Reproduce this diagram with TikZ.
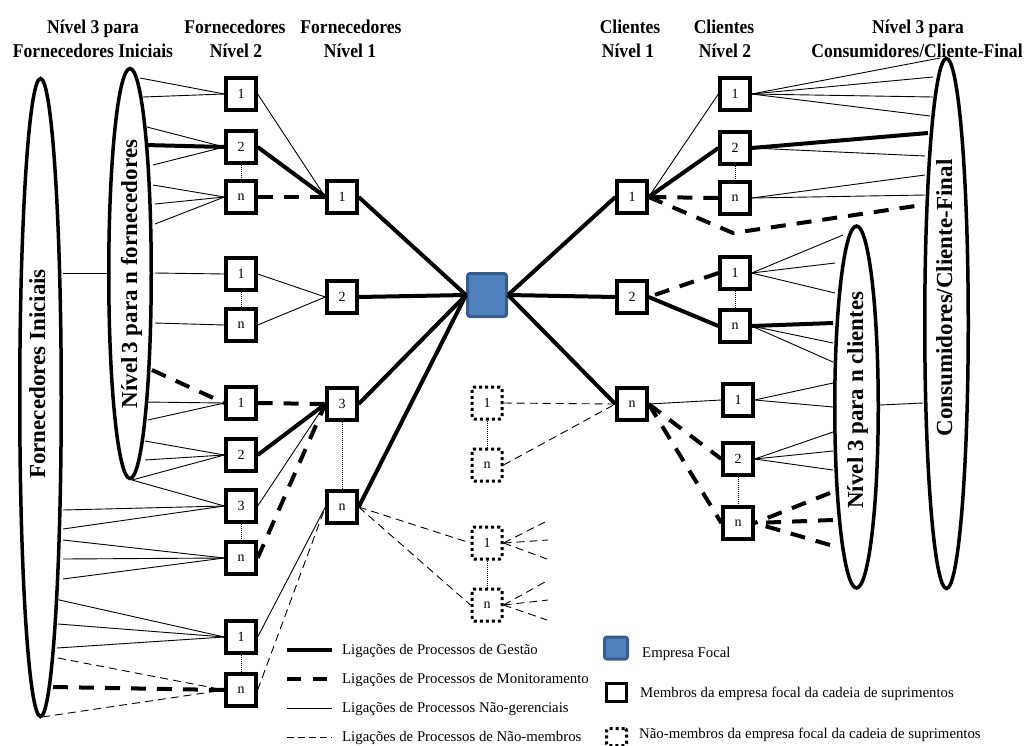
\documentclass[tikz,border=0pt]{standalone}
\usepackage{fontspec}
\setmainfont{Liberation Serif}
\newfontfamily\hdrfont[FakeStretch=0.9]{Liberation Serif}
\usetikzlibrary{shapes.geometric}
\definecolor{focalfill}{RGB}{79,129,189}
\definecolor{focaledge}{RGB}{56,93,138}
\begin{document}
\begin{tikzpicture}[x=1pt,y=-1pt,
  hdr/.style={font=\hdrfont\bfseries\fontsize{19.5}{23}\selectfont, anchor=base, inner sep=0},
  member/.style={draw, line width=3.3pt, fill=white, minimum width=30pt, minimum height=32pt,
    inner sep=0, font=\fontsize{14}{16}\selectfont},
  nonmember/.style={draw, line width=3pt, dash pattern=on 3pt off 3pt, fill=white,
    minimum width=30pt, minimum height=32pt, inner sep=0, rounded corners=2pt,
    font=\fontsize{14}{16}\selectfont},
  focal/.style={draw=focaledge, fill=focalfill, line width=3pt, rounded corners=2.5pt,
    minimum width=39pt, minimum height=43pt, inner sep=0},
  level3/.style={draw, ellipse, line width=3.5pt, inner sep=0},
  ellabel/.style={rotate=90, anchor=base, inner sep=0, font=\bfseries\fontsize{23}{26}\selectfont},
  mgmt/.style={line width=4pt},
  monit/.style={line width=4pt, dash pattern=on 15pt off 11pt},
  nonmgmt/.style={line width=0.9pt},
  nonmemb/.style={line width=0.9pt, dash pattern=on 8pt off 5pt},
  gap/.style={line width=0.6pt, dash pattern=on 1pt off 1pt},
  legtext/.style={anchor=base west, inner sep=0, font=\fontsize{14.8}{16}\selectfont}
]
\useasboundingbox (0,0) rectangle (1028,745);

% ---------- column headers ----------
\node[hdr] (h1a) at (93,33)  {Nível 3 para};
\node[hdr] (h1b) at (93,57)  {Fornecedores Iniciais};
\node[hdr] (h2a) at (235,33) {Fornecedores};
\node[hdr] (h2b) at (236,57) {Nível 2};
\node[hdr] (h3a) at (351,33) {Fornecedores};
\node[hdr] (h3b) at (350,57) {Nível 1};
\node[hdr] (h4a) at (630,33) {Clientes};
\node[hdr] (h4b) at (628,57) {Nível 1};
\node[hdr] (h5a) at (724,33) {Clientes};
\node[hdr] (h5b) at (725,57) {Nível 2};
\node[hdr] (h6a) at (918,33) {Nível 3 para};
\node[hdr] (h6b) at (917,57) {Consumidores/Cliente-Final};

% ---------- tier-3 groups ----------
\node[level3, minimum width=41.5pt, minimum height=638pt] (FI)  at (40.5,397.5) {};
\node[level3, minimum width=42.5pt, minimum height=410pt] (N3F) at (130,273.5) {};
\node[level3, minimum width=43.5pt, minimum height=362pt] (N3C) at (856.5,407) {};
\node[level3, minimum width=43.5pt, minimum height=530pt] (CF)  at (946.5,323.5) {};
\node[ellabel] (FIt)  at (45,374)  {Fornecedores Iniciais};
\node[ellabel] (N3Ft) at (137,274) {Nível\,3 para n fornecedores};
\node[ellabel] (N3Ct) at (863,400) {Nível 3 para n clientes};
\node[ellabel] (CFt)  at (952,298) {Consumidores/Cliente-Final};

% ---------- supplier tier 2 ----------
\node[member] (S2a) at (241,94)  {1};
\node[member] (S2b) at (241,147) {2};
\node[member] (S2c) at (241,197) {n};
\node[member] (S2d) at (241,274) {1};
\node[member] (S2e) at (241,325) {n};
\node[member] (S2f) at (241,403) {1};
\node[member] (S2g) at (241,455) {2};
\node[member] (S2h) at (241,506) {3};
\node[member] (S2i) at (241,558) {n};
\node[member] (S2j) at (241,637) {1};
\node[member] (S2k) at (241,690) {n};

% ---------- supplier tier 1 ----------
\node[member] (S1a) at (342,197) {1};
\node[member] (S1b) at (342,297) {2};
\node[member] (S1c) at (342,404) {3};
\node[member] (S1d) at (342,507) {n};

% ---------- focal company ----------
\node[focal] (F) at (487,295) {};

% ---------- customer tiers ----------
\node[member] (C1a) at (632,197) {1};
\node[member] (C1b) at (632,297) {2};
\node[member] (C1c) at (632,404) {n};
\node[member] (C2a) at (735,94)  {1};
\node[member] (C2b) at (735,148) {2};
\node[member] (C2c) at (735,198) {n};
\node[member] (C2d) at (735,273) {1};
\node[member] (C2e) at (735,326) {n};
\node[member] (C2f) at (738,400) {1};
\node[member] (C2g) at (738,459) {2};
\node[member] (C2h) at (738,523) {n};

% ---------- non-members ----------
\node[nonmember] (N1) at (487,403) {1};
\node[nonmember] (N2) at (487,465) {n};
\node[nonmember] (N3) at (487,543) {1};
\node[nonmember] (N4) at (487,605) {n};

% ---------- link ends on the tier-3 groups ----------
\foreach \n/\px/\py in {f0/108/273, f1/140/78, f2/143/97, f3/147/127, f4/145/145, f5/153/165,
    f6/153/185, f7/155/204, f8/155/224, f9/155/273, f10/155/323, f11/152/370, f12/145/402,
    f13/148/420, f14/145/441, f15/145/460, f16/132/480,
    i1/63/273, i2/63/510, i3/63/529, i4/63/540, i5/63/559, i6/63/579, i7/55/599, i8/58/624,
    i9/57/648, i10/58/658, i11/53/687, i12/42/717,
    c1/940/58, c2/933/77, c3/933/97, c4/930/116, c5/928/133, c6/925/156, c7/925/175,
    c8/925/195, c9/922/205, c10/923/403, cb/733/233,
    k0/880/405, k1/843/235, k2/835/263, k3/835/293, k4/833/323, k5/833/343, k6/833/362,
    k7/833/383, k8/833/407, k9/833/432, k10/833/451, k11/833/470, k12/830/493, k13/833/520,
    k14/830/545,
    m1/545/522, m2/548/540, m3/547/559, m4/545/582, m5/548/600, m6/547/620}
  \coordinate (\n) at (\px,\py);

% ---------- tier 3 -> supplier tier 2 ----------
\draw[nonmgmt] (i1) -- (f0);
\draw[nonmgmt] (f1) -- (S2a.west);
\draw[nonmgmt] (f2) -- (S2a.west);
\draw[nonmgmt] (f3) -- (S2b.west);
\draw[mgmt]    (f4) -- (S2b.west);
\draw[nonmgmt] (f5) -- (S2b.west);
\draw[nonmgmt] (f6) -- (S2c.west);
\draw[nonmgmt] (f7) -- (S2c.west);
\draw[nonmgmt] (f8) -- (S2c.west);
\draw[nonmgmt] (f9) -- (S2d.west);
\draw[nonmgmt] (f10) -- (S2e.west);
\draw[monit]   (f11) -- (S2f.west);
\draw[nonmgmt] (f12) -- (S2f.west);
\draw[nonmgmt] (f13) -- (S2f.west);
\draw[nonmgmt] (f14) -- (S2g.west);
\draw[nonmgmt] (f15) -- (S2g.west);
\draw[nonmgmt] (f16) -- (S2g.west);
\draw[nonmgmt] (f16) -- (S2h.west);
\draw[nonmgmt] (i2) -- (S2h.west);
\draw[nonmgmt] (i3) -- (S2h.west);
\draw[nonmgmt] (i4) -- (S2i.west);
\draw[nonmgmt] (i5) -- (S2i.west);
\draw[nonmgmt] (i6) -- (S2i.west);
\draw[nonmgmt] (i7) -- (S2j.west);
\draw[nonmgmt] (i8) -- (S2j.west);
\draw[nonmgmt] (i9) -- (S2j.west);
\draw[nonmemb] (i10) -- (S2k.west);
\draw[monit]   (i11) -- (S2k.west);
\draw[nonmemb] (i12) -- (S2k.west);

% ---------- supplier tier 2 -> tier 1 ----------
\draw[nonmgmt] (S2a.east) -- (S1a.west);
\draw[mgmt]    (S2b.east) -- (S1a.west);
\draw[monit]   (S2c.east) -- (S1a.west);
\draw[nonmgmt] (S2d.east) -- (S1b.west);
\draw[nonmgmt] (S2e.east) -- (S1b.west);
\draw[monit]   (S2f.east) -- (S1c.west);
\draw[mgmt]    (S2g.east) -- (S1c.west);
\draw[nonmgmt] (S2h.east) -- (S1c.west);
\draw[monit]   (S2i.east) -- (S1c.west);
\draw[nonmgmt] (S2j.east) -- (S1d.west);
\draw[nonmemb] (S2k.east) -- (S1d.west);

% ---------- tier 1 <-> focal company ----------
\draw[mgmt] (S1a.east) -- (F.west);
\draw[mgmt] (S1b.east) -- (F.west);
\draw[mgmt] (S1c.east) -- (F.west);
\draw[mgmt] (S1d.east) -- (F.west);
\draw[mgmt] (F.east) -- (C1a.west);
\draw[mgmt] (F.east) -- (C1b.west);
\draw[mgmt] (F.east) -- (C1c.west);

% ---------- customer tier 1 -> tier 2 ----------
\draw[nonmgmt] (C2a.west) -- (C1a.east);
\draw[mgmt]    (C2b.west) -- (C1a.east);
\draw[monit]   (C2c.west) -- (C1a.east);
\draw[monit]   (C1a.east) -- (cb) -- (c9);
\draw[monit]   (C2d.west) -- (C1b.east);
\draw[mgmt]    (C2e.west) -- (C1b.east);
\draw[nonmgmt] (C1c.east) -- (C2f.west);
\draw[monit]   (C1c.east) -- (C2g.west);
\draw[monit]   (C1c.east) -- (C2h.west);

% ---------- customer tier 2 -> tier 3 ----------
\draw[nonmgmt] (C2a.east) -- (c1);
\draw[nonmgmt] (C2a.east) -- (c2);
\draw[nonmgmt] (C2a.east) -- (c3);
\draw[nonmgmt] (C2a.east) -- (c4);
\draw[mgmt]    (C2b.east) -- (c5);
\draw[nonmgmt] (C2b.east) -- (c6);
\draw[nonmgmt] (C2c.east) -- (c7);
\draw[nonmgmt] (C2c.east) -- (c8);
\draw[nonmgmt] (C2d.east) -- (k1);
\draw[nonmgmt] (C2d.east) -- (k2);
\draw[nonmgmt] (C2d.east) -- (k3);
\draw[mgmt]    (C2e.east) -- (k4);
\draw[nonmgmt] (C2e.east) -- (k5);
\draw[nonmgmt] (C2e.east) -- (k6);
\draw[nonmgmt] (C2f.east) -- (k7);
\draw[nonmgmt] (C2f.east) -- (k8);
\draw[nonmgmt] (C2g.east) -- (k9);
\draw[nonmgmt] (C2g.east) -- (k10);
\draw[nonmgmt] (C2g.east) -- (k11);
\draw[monit]   (k12) -- (C2h.east);
\draw[monit]   (k13) -- (C2h.east);
\draw[monit]   (k14) -- (C2h.east);
\draw[nonmgmt] (k0) -- (c10);

% ---------- non-member links ----------
\draw[nonmemb] (N1.east) -- (C1c.west);
\draw[nonmemb] (N2.east) -- (C1c.west);
\draw[nonmemb] (S1d.east) -- (N3.west);
\draw[nonmemb] (S1d.east) -- (N4.west);
\foreach \e in {m1,m2,m3} \draw[nonmemb] (N3.east) -- (\e);
\foreach \e in {m4,m5,m6} \draw[nonmemb] (N4.east) -- (\e);

% ---------- "1 ... n" continuation marks ----------
\foreach \a/\b in {S2b/S2c, S2d/S2e, S2h/S2i, S2j/S2k, S1c/S1d, C2b/C2c, C2d/C2e, C2g/C2h, N1/N2, N3/N4}
  \draw[gap] (\a.south) -- (\b.north);

% ---------- legend ----------
\coordinate (la1) at (287,650); \coordinate (lb1) at (332,650);
\coordinate (la2) at (287,679); \coordinate (lb2) at (332,679);
\coordinate (la3) at (287,708); \coordinate (lb3) at (332,708);
\coordinate (la4) at (287,737); \coordinate (lb4) at (332,737);
\draw[mgmt]    (la1) -- (lb1);
\draw[line width=4pt, dash pattern=on 14pt off 12pt] (la2) -- (lb2);
\draw[nonmgmt] (la3) -- (lb3);
\draw[line width=0.9pt, dash pattern=on 7pt off 4pt] (la4) -- (lb4);
\node[legtext] (lt1) at (342,654) {Ligações de Processos de Gestão};
\node[legtext] (lt2) at (342,683) {Ligações de Processos de Monitoramento};
\node[legtext] (lt3) at (342,712) {Ligações de Processos Não-gerenciais};
\node[legtext] (lt4) at (342,741) {Ligações de Processos de Não-membros};

\node[focal, minimum width=23pt, minimum height=22pt] (lgF) at (616,648) {};
\node[member, line width=3pt, minimum width=20pt, minimum height=18pt] (lgM) at (616.5,692.5) {};
\node[nonmember, minimum width=20pt, minimum height=17pt] (lgN) at (616.5,737) {};
\node[legtext] (lt5) at (642,657) {Empresa Focal};
\node[legtext] (lt6) at (640,697) {Membros da empresa focal da cadeia de suprimentos};
\node[legtext] (lt7) at (639,738) {Não-membros da empresa focal da cadeia de suprimentos};
\end{tikzpicture}
\end{document}
